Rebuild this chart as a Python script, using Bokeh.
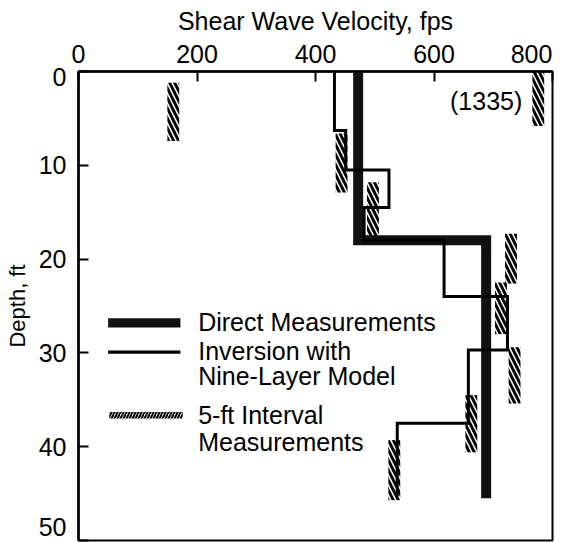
from bokeh.plotting import figure
from bokeh.models import Range1d, FixedTicker, Label, BoxAnnotation, LinearAxis
from bokeh.embed import file_html
from bokeh.resources import INLINE

# ---------------- data ----------------
# Direct measurements (layer boundaries in ft, velocities in fps)
direct_depths = [0, 18.0, 45.5]
direct_vel = [472, 688]

# Inversion with nine-layer model
inv_depths = [0, 6.3, 10.5, 14.5, 18.0, 24.0, 29.7, 37.5, 45.3]
inv_vel = [432, 451, 524, 482, 617, 724, 658, 538]

# 5-ft interval measurements (velocity, top depth, bottom depth)
int_vel = [160, 444, 497, 776, 730, 713, 736, 663, 533]
int_top = [1.2, 6.6, 11.8, 0.0, 17.3, 22.5, 29.4, 34.5, 39.3]
int_bot = [7.4, 12.9, 18.0, 5.8, 22.6, 28.0, 35.4, 40.6, 45.7]
off_scale_value = 1335

x_ticks = [0, 200, 400, 600, 800]
y_ticks = [0, 10, 20, 30, 40, 50]

FONT = "Liberation Sans"
FS = "25px"


def step_path(bounds, vels):
    xs, ys = [], []
    for i, v in enumerate(vels):
        xs += [v, v]
        ys += [bounds[i], bounds[i + 1]]
    return xs, ys


p = figure(width=556, height=542, x_range=Range1d(0, 800), y_range=Range1d(50, 0),
           x_axis_location="above", output_backend="svg", toolbar_location=None,
           min_border_left=78, min_border_right=4, min_border_top=71, min_border_bottom=2)

p.xgrid.visible = False
p.ygrid.visible = False
p.outline_line_color = "black"
p.outline_line_width = 2
p.background_fill_color = "white"
p.border_fill_color = "white"


def style_axis(ax):
    ax.axis_line_width = 2.5
    ax.axis_line_color = "black"
    ax.major_tick_in = 10
    ax.major_tick_out = 0
    ax.major_tick_line_width = 2
    ax.major_tick_line_color = "black"
    ax.minor_tick_line_color = None
    ax.major_label_text_font = FONT
    ax.major_label_text_font_size = FS
    ax.major_label_text_color = "black"
    ax.axis_label_text_font = FONT
    ax.axis_label_text_font_style = "normal"
    ax.axis_label_text_color = "black"


# inner axes: axis lines and inward ticks only (labels are not drawn)
for ax, ticks in ((p.xaxis[0], x_ticks), (p.yaxis[0], y_ticks)):
    style_axis(ax)
    ax.ticker = FixedTicker(ticks=ticks)
    ax.major_label_text_color = None
    ax.major_label_text_font_size = "1px"
    ax.major_label_standoff = 0

# outer axes: tick labels (end labels nudged inward, as in the original) and titles
x_edge = x_ticks[-1] - 35.4      # keeps the "800" label inside the picture
y_edge_top = y_ticks[0] + 0.6
y_edge_bot = y_ticks[-1] - 1.4   # keeps the "50" label inside the picture

xlab = LinearAxis(ticker=FixedTicker(ticks=x_ticks[:-1] + [x_edge]))
style_axis(xlab)
xlab.axis_line_color = None
xlab.major_tick_line_color = None
xlab.major_tick_in = 0
xlab.major_label_standoff = 9
xlab.major_label_overrides = {x_edge: str(x_ticks[-1])}
xlab.axis_label = "Shear Wave Velocity, fps"
xlab.axis_label_text_font_size = FS
xlab.axis_label_standoff = 7
p.add_layout(xlab, "above")

ylab = LinearAxis(ticker=FixedTicker(ticks=[y_edge_top] + y_ticks[1:-1] + [y_edge_bot]))
style_axis(ylab)
ylab.axis_line_color = None
ylab.major_tick_line_color = None
ylab.major_tick_in = 0
ylab.major_label_standoff = 12
ylab.major_label_overrides = {y_edge_top: str(y_ticks[0]), y_edge_bot: str(y_ticks[-1])}
ylab.axis_label = "Depth, ft"
ylab.axis_label_text_font_size = "22px"
ylab.axis_label_standoff = 6
p.add_layout(ylab, "left")

# 5-ft interval measurements (hatched)
p.vbar(x=int_vel, width=20, top=int_top, bottom=int_bot, fill_color=None, line_color=None,
       hatch_pattern="\\", hatch_color="black", hatch_weight=3, hatch_scale=10)

# direct measurements (thick)
dx, dy = step_path(direct_depths, direct_vel)
p.line(dx, dy, line_width=10, line_color="#111111", line_join="miter")

# inversion (thin)
ix, iy = step_path(inv_depths, inv_vel)
p.line(ix, iy, line_width=3, line_color="black", line_join="miter")

# off-scale value note
p.add_layout(Label(x=749, y=3.1, text="(%d)" % off_scale_value, text_align="right",
                   text_baseline="middle", text_font=FONT, text_font_size=FS, text_color="black"))

# legend (drawn as annotations)
p.add_layout(BoxAnnotation(left=50, right=172, top=26.3, bottom=27.3, fill_color="#111111",
                           fill_alpha=1, line_color=None))
p.add_layout(BoxAnnotation(left=50, right=172, top=29.75, bottom=30.1, fill_color="black",
                           fill_alpha=1, line_color=None))
p.add_layout(BoxAnnotation(left=52, right=176, top=36.3, bottom=37.0, fill_color=None,
                           fill_alpha=0, line_color=None, hatch_pattern="/",
                           hatch_color="black", hatch_weight=2, hatch_scale=6))
legend_lines = [("Direct Measurements", 26.7), ("Inversion with", 29.8),
                ("Nine-Layer Model", 32.5), ("5-ft Interval", 36.6), ("Measurements", 39.5)]
for txt, yy in legend_lines:
    p.add_layout(Label(x=202, y=yy, text=txt, text_align="left", text_baseline="middle",
                       text_font=FONT, text_font_size=FS, text_color="black"))

open("out.html", "w").write(file_html(p, INLINE))
